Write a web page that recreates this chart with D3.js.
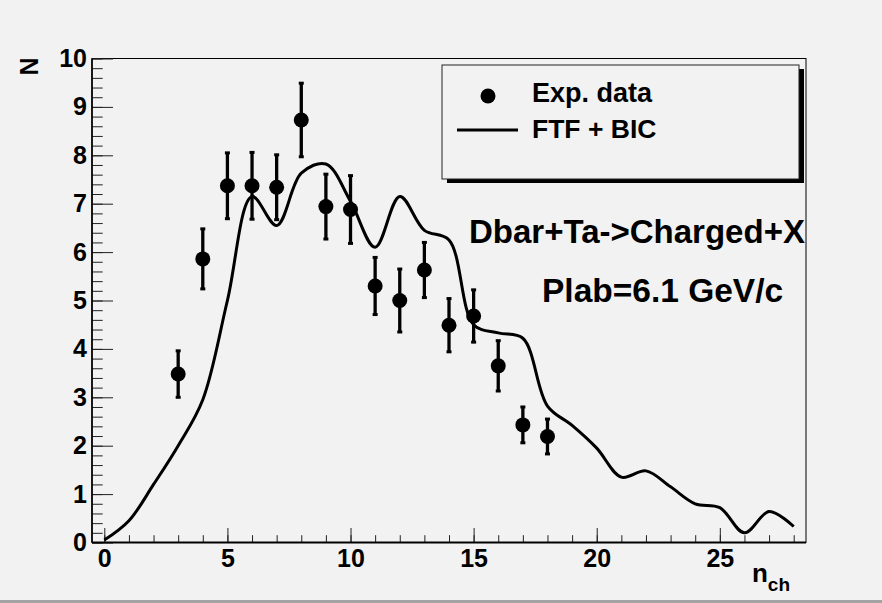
<!DOCTYPE html>
<html>
<head>
<meta charset="utf-8">
<script src="https://cdn.jsdelivr.net/npm/d3@7"></script>
<style>
  html, body { margin: 0; padding: 0; background: #f2f2f2; }
  svg { display: block; }
  text { font-family: "Liberation Sans", Arial, Helvetica, sans-serif; font-weight: bold; fill: #000; }
</style>
</head>
<body>
<svg id="chart" width="882" height="603"></svg>
<script>
// ---------- data ----------
const expX   = [3, 4, 5, 6, 7, 8, 9, 10, 11, 12, 13, 14, 15, 16, 17, 18];
const expN   = [3.48, 5.86, 7.37, 7.37, 7.34, 8.73, 6.94, 6.88, 5.30, 5.00, 5.63, 4.49, 4.68, 3.65, 2.43, 2.19];
const expErr = [0.48, 0.62, 0.68, 0.69, 0.67, 0.76, 0.67, 0.70, 0.59, 0.65, 0.57, 0.55, 0.54, 0.52, 0.37, 0.36];

const modelX = [0, 1, 2, 3, 4, 5, 6, 7, 8, 9, 10, 11, 12, 13, 14, 15, 16, 17, 18, 19, 20, 21, 22, 23, 24, 25, 26, 27, 28];
const modelN = [0.05, 0.45, 1.2, 2.0, 2.95, 5.0, 7.15, 6.55, 7.63, 7.82, 7.05, 6.1, 7.15, 6.45, 6.25, 4.5, 4.33, 4.22, 2.82, 2.42, 1.95, 1.35, 1.48, 1.15, 0.8, 0.72, 0.2, 0.64, 0.33];

const xMajorTicks = [0, 5, 10, 15, 20, 25];
const xMinorTicks = [0,1,2,3,4,5,6,7,8,9,10,11,12,13,14,15,16,17,18,19,20,21,22,23,24,25,26,27,28];
const yMajorTicks = [0, 1, 2, 3, 4, 5, 6, 7, 8, 9, 10];

const legendLabels = ["Exp. data", "FTF + BIC"];
const annotations = ["Dbar+Ta->Charged+X", "Plab=6.1 GeV/c"];
const yTitle = "N";
const xTitleMain = "n";
const xTitleSub = "ch";

// ---------- layout ----------
const W = 882, H = 603;
const frame = { left: 92, right: 806, top: 58.5, bottom: 542.5 };
const svg = d3.select("#chart");
const bg = "#f2f2f2";

svg.append("rect").attr("x", 0).attr("y", 0).attr("width", W).attr("height", H).attr("fill", bg);
svg.append("rect").attr("x", 0).attr("y", 600).attr("width", W).attr("height", 3).attr("fill", "#a3a3a3");

const x = d3.scaleLinear().domain([-0.5, 28.5]).range([frame.left, frame.right]);
const y = d3.scaleLinear().domain([0, 10]).range([frame.bottom, frame.top]);

// frame
svg.append("rect")
  .attr("x", frame.left).attr("y", frame.top)
  .attr("width", frame.right - frame.left).attr("height", frame.bottom - frame.top)
  .attr("fill", bg).attr("stroke", "#000").attr("stroke-width", 1);

const styleText = g => g.selectAll("text").attr("font-size", 25).attr("font-family", "Liberation Sans, Arial, sans-serif").attr("font-weight", "bold").attr("fill", "#000");

// y minor ticks
const yMinor = d3.range(0, 10.0001, 0.2).map(v => +v.toFixed(1));
const yMinorAxis = d3.axisLeft(y).tickValues(yMinor).tickSizeInner(-10.7).tickSizeOuter(0).tickFormat("");
svg.append("g").attr("transform", `translate(${frame.left},0)`).call(yMinorAxis)
  .call(g => g.select(".domain").remove())
  .call(g => g.selectAll("line").attr("stroke", "#222").attr("stroke-width", 1));

// y major
const yAxis = d3.axisLeft(y).tickValues(yMajorTicks).tickSizeInner(-21).tickSizeOuter(0).tickPadding(5).tickFormat(d3.format("d"));
svg.append("g").attr("transform", `translate(${frame.left},0)`).call(yAxis)
  .call(g => g.select(".domain").remove())
  .call(g => g.selectAll("line").attr("stroke", "#222").attr("stroke-width", 1))
  .call(styleText);

// x minor
const xMinorAxis = d3.axisBottom(x).tickValues(xMinorTicks).tickSizeInner(-7.3).tickSizeOuter(0).tickFormat("");
svg.append("g").attr("transform", `translate(0,${frame.bottom})`).call(xMinorAxis)
  .call(g => g.select(".domain").remove())
  .call(g => g.selectAll("line").attr("stroke", "#222").attr("stroke-width", 1));

// x major
const xAxis = d3.axisBottom(x).tickValues(xMajorTicks).tickSizeInner(-14.5).tickSizeOuter(0).tickPadding(7).tickFormat(d3.format("d"));
svg.append("g").attr("transform", `translate(0,${frame.bottom})`).call(xAxis)
  .call(g => g.select(".domain").remove())
  .call(g => g.selectAll("line").attr("stroke", "#222").attr("stroke-width", 1))
  .call(styleText);

// axis lines (thicker)
svg.append("line").attr("x1", frame.left).attr("x2", frame.right).attr("y1", frame.bottom).attr("y2", frame.bottom)
  .attr("stroke", "#000").attr("stroke-width", 2.2);
svg.append("line").attr("x1", frame.left).attr("x2", frame.left).attr("y1", frame.top).attr("y2", frame.bottom)
  .attr("stroke", "#000").attr("stroke-width", 1.6);

// axis titles
svg.append("text").text(yTitle)
  .attr("transform", `translate(37.5,${frame.top - 1}) rotate(-90)`)
  .attr("text-anchor", "end").attr("font-size", 25);

const xt = svg.append("text").attr("text-anchor", "end").attr("x", 790).attr("y", 582).attr("font-size", 26);
xt.append("tspan").text(xTitleMain);
xt.append("tspan").text(xTitleSub).attr("font-size", 19).attr("dy", 9);

// model curve
const line = d3.line().x((d, i) => x(modelX[i])).y(d => y(d)).curve(d3.curveCatmullRom.alpha(0.5));
svg.append("path").datum(modelN).attr("d", line)
  .attr("fill", "none").attr("stroke", "#000").attr("stroke-width", 3).attr("stroke-linejoin", "round");

// error bars
const pts = expX.map((xv, i) => ({ x: xv, n: expN[i], e: expErr[i] }));
const eb = svg.append("g");
eb.selectAll("line.err").data(pts).join("line")
  .attr("x1", d => x(d.x)).attr("x2", d => x(d.x))
  .attr("y1", d => y(d.n - d.e)).attr("y2", d => y(d.n + d.e))
  .attr("stroke", "#000").attr("stroke-width", 3.3);
eb.selectAll("rect.capT").data(pts).join("rect")
  .attr("x", d => x(d.x) - 2.5).attr("y", d => y(d.n + d.e) - 1.5).attr("width", 5).attr("height", 3).attr("fill", "#000");
eb.selectAll("rect.capB").data(pts).join("rect").attr("class", "capB")
  .attr("x", d => x(d.x) - 2.5).attr("y", d => y(d.n - d.e) - 1.5).attr("width", 5).attr("height", 3).attr("fill", "#000");
svg.append("g").selectAll("circle").data(pts).join("circle")
  .attr("cx", d => x(d.x)).attr("cy", d => y(d.n)).attr("r", 7.5).attr("fill", "#000");

// legend
const lg = { x: 442, y: 65, w: 357, h: 114 };
svg.append("rect").attr("x", lg.x + 5).attr("y", lg.y + 4).attr("width", lg.w).attr("height", lg.h).attr("fill", "#000");
svg.append("rect").attr("x", lg.x).attr("y", lg.y).attr("width", lg.w).attr("height", lg.h)
  .attr("fill", bg).attr("stroke", "#222").attr("stroke-width", 1);
svg.append("circle").attr("cx", 488).attr("cy", 96).attr("r", 7.5).attr("fill", "#000");
svg.append("text").text(legendLabels[0]).attr("x", 532).attr("y", 102).attr("font-size", 27);
svg.append("line").attr("x1", 457).attr("x2", 518).attr("y1", 130).attr("y2", 130).attr("stroke", "#000").attr("stroke-width", 3);
svg.append("text").text(legendLabels[1]).attr("x", 532).attr("y", 138).attr("font-size", 26.5);

// annotations
svg.append("text").text(annotations[0]).attr("x", 469).attr("y", 243).attr("font-size", 33);
svg.append("text").text(annotations[1]).attr("x", 542).attr("y", 302).attr("font-size", 33.5);
</script>
</body>
</html>
